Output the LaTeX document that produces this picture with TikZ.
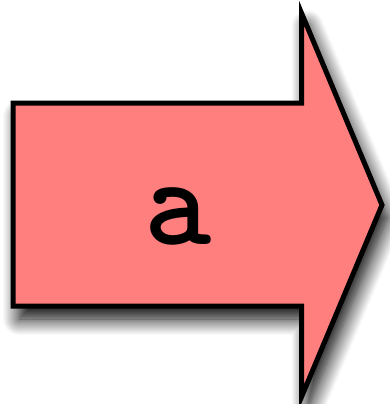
\documentclass[tikz,border=0pt]{standalone}
\usepackage{fontspec}
\usetikzlibrary{shadows.blur}
\definecolor{arrowfill}{RGB}{255,127,127}
\tikzset{
  arrowbody/.style={fill=arrowfill, draw=black, line width=5pt, line join=miter,
    blur shadow={shadow xshift=6pt, shadow yshift=-13pt, shadow blur radius=16pt, shadow opacity=100, shadow blur steps=14}},
  arrowlabel/.style={font=\ttfamily\bfseries\fontsize{128}{128}\selectfont, anchor=base, inner sep=0pt}
}
\begin{document}
\begin{tikzpicture}[x=1pt,y=-1pt]
\useasboundingbox (0,0) rectangle (389,404);
\path[arrowbody] (13,103) -- (301.5,103) -- (301.5,13) -- (382,205) -- (301.5,397) -- (301.5,306) -- (13,306) -- cycle;
\node[arrowlabel] (a) at (178,244) {a};
\end{tikzpicture}
\end{document}
